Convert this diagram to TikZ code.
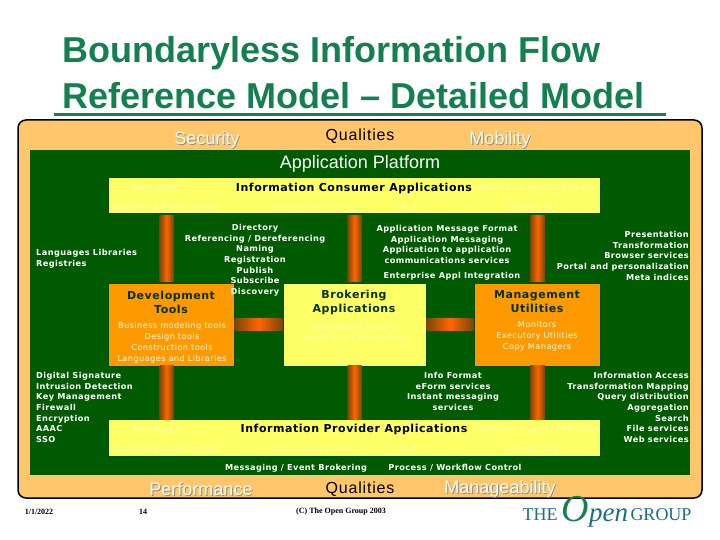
\documentclass[tikz,border=0pt]{standalone}
\usepackage{fontspec}
\setmainfont{DejaVu Sans}
\newfontfamily\spacedfont[LetterSpace=5]{DejaVu Sans}
\newfontfamily\arialfont{Liberation Sans}
\newfontfamily\arialspaced[LetterSpace=5]{Liberation Sans}
\newfontfamily\timesfont{Liberation Serif}
\usepackage{tikz}
\usetikzlibrary{positioning, calc}
\definecolor{TitleGreen}{RGB}{20,128,80}
\definecolor{PanelOrange}{RGB}{255,198,107}
\definecolor{PlatformGreen}{RGB}{0,90,0}
\definecolor{BoxYellow}{RGB}{255,255,102}
\definecolor{BoxOrange}{RGB}{255,153,0}
\definecolor{PipeOrange}{RGB}{255,102,0}
\definecolor{PipeDark}{RGB}{120,70,10}
\definecolor{FaintText}{RGB}{255,255,170}
\definecolor{LogoTeal}{RGB}{24,112,128}
\tikzstyle{panel} = [draw=black, line width=1.5pt, fill=PanelOrange, rounded corners=8pt]
\tikzstyle{platform} = [fill=PlatformGreen]
\tikzstyle{bar} = [rectangle, draw=black!70!green, line width=1pt, fill=BoxYellow, inner sep=0pt]
\tikzstyle{util} = [rectangle, draw=black!70!green, line width=1pt, fill=BoxOrange, inner sep=0pt]
\tikzstyle{head} = [font=\spacedfont\bfseries\fontsize{11}{14}\selectfont, text=black!80!green, inner sep=0pt, align=center]
\tikzstyle{listtext} = [font=\spacedfont\bfseries\fontsize{8.2}{10.7}\selectfont, text=white, inner sep=0pt]
\tikzstyle{boxtext} = [font=\spacedfont\fontsize{8.2}{11}\selectfont, text=white!92!yellow, inner sep=0pt, align=center]
\tikzstyle{faint} = [font=\spacedfont\fontsize{8.2}{11}\selectfont, text=FaintText, inner sep=0pt]
\tikzstyle{bigtitle} = [font=\arialfont\bfseries\fontsize{36}{46}\selectfont, text=TitleGreen, inner sep=0pt, align=left]
\tikzstyle{soft} = [font=\arialfont\fontsize{18}{20}\selectfont, inner sep=0pt]
\tikzstyle{qual} = [font=\arialspaced\fontsize{16}{18}\selectfont, inner sep=0pt]
\tikzstyle{footer} = [font=\timesfont\bfseries\fontsize{8}{9}\selectfont, text=black, inner sep=0pt]
\tikzstyle{logo} = [font=\timesfont\fontsize{18}{20}\selectfont, text=LogoTeal, inner sep=0pt, anchor=base]
\tikzstyle{pipe} = [left color=PipeDark, right color=PipeDark, middle color=PipeOrange]
\newcommand{\softlabel}[4]{
  \node[soft, text=black!45] at (#2+0.8,#3+0.8) {#4};
  \node[soft, text=white!92!yellow] (#1) at (#2,#3) {#4};
}
\begin{document}
\begin{tikzpicture}[x=1pt, y=-1pt]
  \useasboundingbox (0,0) rectangle (720,540);
  \fill[white] (0,0) rectangle (720,540);
  % title
  \node (title) [bigtitle, anchor=north west] at (62,36) {Boundaryless Information Flow\\Reference Model – Detailed Model};
  \fill[TitleGreen] (54,113) rectangle (666,116);
  % background panels
  \draw[panel] (18,120) rectangle (702,498);
  \fill[platform] (30,150) rectangle (690,475);
  \node (qualtop) [qual] at (360,136) {Qualities};
  \node (qualbot) [qual] at (360,489) {Qualities};
  \softlabel{security}{207}{140}{Security}
  \softlabel{mobility}{500}{140}{Mobility}
  \softlabel{performance}{201}{489}{Performance}
  \softlabel{manageability}{500}{489}{Manageability}
  \node (platformname) [font=\arialfont\fontsize{18}{20}\selectfont, text=white, inner sep=0pt] at (360,164) {Application Platform};
  % boxes
  \node (consumer) [bar, minimum width=492pt, minimum height=36pt] at (354,196) {};
  \node (provider) [bar, minimum width=492pt, minimum height=37pt] at (354,437.5) {};
  \node (devtools) [util, minimum width=126pt, minimum height=83pt] at (171,324.5) {};
  \node (brokering) [bar, minimum width=143pt, minimum height=83pt] at (354.5,324.5) {};
  \node (mgmt) [util, minimum width=126pt, minimum height=83pt] at (537,324.5) {};
  % pipes
  \shade[pipe] ([xshift=52pt, yshift=-1pt]consumer.south west) rectangle ([xshift=66pt, yshift=1pt]devtools.north west);
  \shade[pipe] ([xshift=52pt, yshift=1pt]devtools.south west) rectangle ([xshift=66pt, yshift=-1pt]provider.north west);
  \shade[pipe] ([xshift=-7pt, yshift=-1pt]consumer.south -| brokering) rectangle ([xshift=7pt, yshift=1pt]brokering.north);
  \shade[pipe] ([xshift=-7pt, yshift=1pt]brokering.south) rectangle ([xshift=7pt, yshift=-1pt]provider.north -| brokering);
  \shade[pipe] ([xshift=-7pt, yshift=-1pt]consumer.south -| mgmt) rectangle ([xshift=8pt, yshift=1pt]mgmt.north);
  \shade[pipe] ([xshift=-7pt, yshift=1pt]mgmt.south) rectangle ([xshift=8pt, yshift=-1pt]provider.north -| mgmt);
  \shade[pipe] ([yshift=-6pt]devtools.east) rectangle ([yshift=6pt]devtools.east -| brokering.west);
  \shade[pipe] ([yshift=-6pt]brokering.east) rectangle ([yshift=6pt]brokering.east -| mgmt.west);
  % text of the two bars
  \node (consumername) [head, text=black] at (354,188) {Information Consumer Applications};
  \node (providername) [head, text=black] at (354,429) {Information Provider Applications};
  \foreach \rowy/\tag in {188/c, 429/p} {
    \node (web\tag) [faint] at (157,\rowy) {Web Portal};
    \node (desk\tag) [faint] at (538,\rowy) {Desktop Video Conference};
  }
  \foreach \rowy/\tag in {207/c, 449/p} {
    \node (stream\tag) [faint] at (165,\rowy) {Streaming audio / video};
    \node (access\tag) [faint] at (313,\rowy) {Information Access};
    \node (mail\tag) [faint] at (407,\rowy) {Mail};
    \node (phone\tag) [faint] at (533,\rowy) {Phone / Fax};
  }
  % text of the three boxes
  \node (devname) [head] at (171,302) {Development\\Tools};
  \node (brokername) [head] at (354,302) {Brokering\\Applications};
  \node (mgmtname) [head] at (537,302) {Management\\Utilities};
  \node (devlist) [boxtext, anchor=north] at (172,322) {Business modeling tools\\Design tools\\Construction tools\\Languages and Libraries};
  \node (brokerlist) [faint, align=center, anchor=north] at (355,323) {Information Brokers\\Application Integration};
  \node (mgmtlist) [boxtext, anchor=north] at (537,321) {Monitors\\Executory Utilities\\Copy Managers};
  % lists on the platform
  \node (langlist) [listtext, align=left, anchor=north west] at (36,249) {Languages Libraries\\Registries};
  \node (dirlist) [listtext, align=center, anchor=north] at (255,224) {Directory\\Referencing / Dereferencing\\Naming\\Registration\\Publish\\Subscribe\\Discovery};
  \node (msgformat) [listtext, anchor=north, align=center] at (447,225) {Application Message Format\\Application Messaging\\Application to application\\communications services};
  \node (enterprise) [listtext] at (452,276) {Enterprise Appl Integration};
  \node (preslist) [listtext, align=right, anchor=north east] at (689,231) {Presentation\\Transformation\\Browser services\\Portal and personalization\\Meta indices};
  \node (seclist) [listtext, align=left, anchor=north west] at (36,372) {Digital Signature\\Intrusion Detection\\Key Management\\Firewall\\Encryption\\AAAC\\SSO};
  \node (formatlist) [listtext, align=center, anchor=north] at (453,372) {Info Format\\eForm services\\Instant messaging\\services};
  \node (accesslist) [listtext, align=right, anchor=north east] at (689,372) {Information Access\\Transformation Mapping\\Query distribution\\Aggregation\\Search\\File services\\Web services};
  \node (brokerline) [listtext] at (296,468) {Messaging / Event Brokering};
  \node (workflow) [listtext] at (455,468) {Process / Workflow Control};
  % footer
  \node (date) [footer] at (39,512) {1/1/2022};
  \node (pageno) [footer] at (143,512) {14};
  \node (copyright) [footer] at (341,512) {(C) The Open Group 2003};
  \node (logothe) [logo] at (540,520) {THE};
  \node (logoopen) [logo] at (595,521) {{\fontsize{38}{40}\selectfont\itshape\color{TitleGreen}O}{\fontsize{27}{29}\selectfont\itshape pen}};
  \node (logogroup) [logo] at (661,520) {GROUP};
\end{tikzpicture}
\end{document}
